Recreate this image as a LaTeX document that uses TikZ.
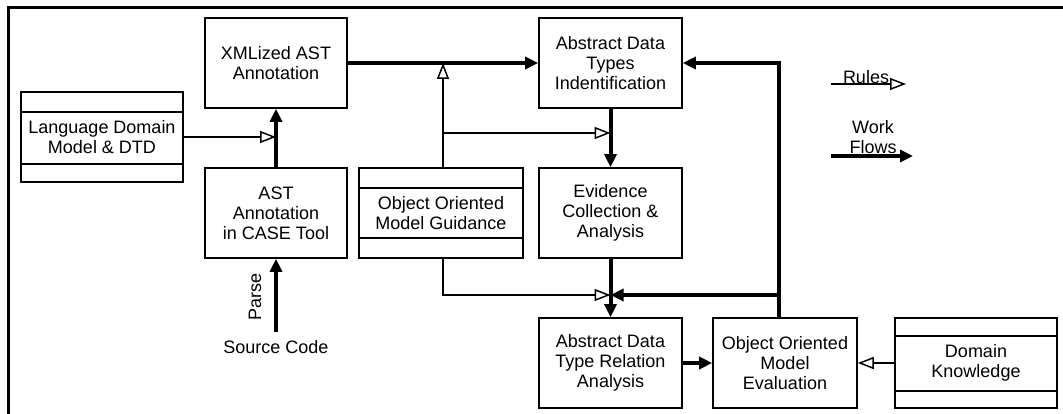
\documentclass[tikz,border=0pt]{standalone}
\usepackage{fontspec}
\setmainfont{Liberation Sans}
\usetikzlibrary{arrows.meta}
\begin{document}
\begin{tikzpicture}[x=1pt,y=-1pt,
  lbl/.style={font=\fontsize{18}{20}\selectfont, align=center, inner sep=0pt},
  box/.style={lbl, draw, line width=1.6pt, minimum height=90pt},
  flow/.style={line width=4pt, -{Triangle[length=13pt,width=12pt]}},
  rule/.style={line width=1.5pt, -{Triangle[open,length=16pt,width=12pt,line width=1.5pt]}},
  divider/.style={line width=1.6pt},
]
\useasboundingbox (0,0) rectangle (1063,414);
\draw[line width=3pt] (8.5,420) -- (8.5,7.5) -- (1070,7.5);

% boxes
\node[box, minimum width=142pt] (xml)  at (276,63)   {XMLized AST\\Annotation};
\node[box, minimum width=162pt] (lang) at (102,137)  {Language Domain\\Model \& DTD};
\node[box, minimum width=142pt] (ast)  at (276,213)  {AST\\Annotation\\in CASE Tool};
\node[box, minimum width=143pt] (adti) at (610.5,63) {Abstract Data\\Types\\Indentification};
\node[box, minimum width=143pt] (evid) at (610.5,213) {Evidence\\Collection \&\\Analysis};
\node[box, minimum width=164pt] (oomg) at (441,213)  {Object Oriented\\Model Guidance};
\node[box, minimum width=143pt] (adtr) at (610.5,363) {Abstract Data\\Type Relation\\Analysis};
\node[box, minimum width=144pt] (oome) at (785,363)  {Object Oriented\\Model\\Evaluation};
\node[box, minimum width=162pt] (dk)   at (976,363)  {Domain\\Knowledge};

% compartment lines
\draw[divider] (lang.west |- 0,112) -- (lang.east |- 0,112);
\draw[divider] (lang.west |- 0,164) -- (lang.east |- 0,164);
\draw[divider] (oomg.west |- 0,188) -- (oomg.east |- 0,188);
\draw[divider] (oomg.west |- 0,238) -- (oomg.east |- 0,238);
\draw[divider] (dk.west |- 0,336) -- (dk.east |- 0,336);
\draw[divider] (dk.west |- 0,391) -- (dk.east |- 0,391);

% source code
\node[lbl, inner ysep=8pt] (src) at (276,347) {Source Code};
\node[lbl, rotate=90] (parse) at (255,297) {Parse};

% junction coordinates
\coordinate (j1) at (oomg.north |- xml.east);
\coordinate (b1) at (443,133);
\coordinate (j2) at (610.5,295);
\coordinate (oo) at ([xshift=-6pt]oome.north);

% work flows
\draw[flow] (xml.east) -- (adti.west);
\draw[flow] (ast.north) -- (xml.south);
\draw[flow] (src.north) -- (ast.south);
\draw[flow] (adti.south) -- (evid.north);
\draw[flow] (evid.south) -- (adtr.north);
\draw[flow] (oo) |- (adti.east);
\draw[flow] (oo |- j2) -- (j2);
\draw[flow] (adtr.east) -- (oome.west);

% rules
\draw[rule] (oomg.north -| b1) -- (j1 -| b1);
\draw[rule] (b1) -- (b1 -| adti.south);
\draw[rule] (lang.east) -- (lang.east -| ast.north);
\draw[rule] (oomg.south -| b1) |- (j2);
\draw[rule] (dk.west) -- (oome.east);

% legend
\coordinate (r1) at (831,84);
\coordinate (r2) at (906,84);
\coordinate (w1) at (831,156);
\coordinate (w2) at (913,156);
\draw[rule] (r1) -- (r2);
\node[lbl] (rules) at (866,77) {Rules};
\draw[flow] (w1) -- (w2);
\node[lbl] (wf) at (873,137) {Work\\Flows};
\end{tikzpicture}
\end{document}
